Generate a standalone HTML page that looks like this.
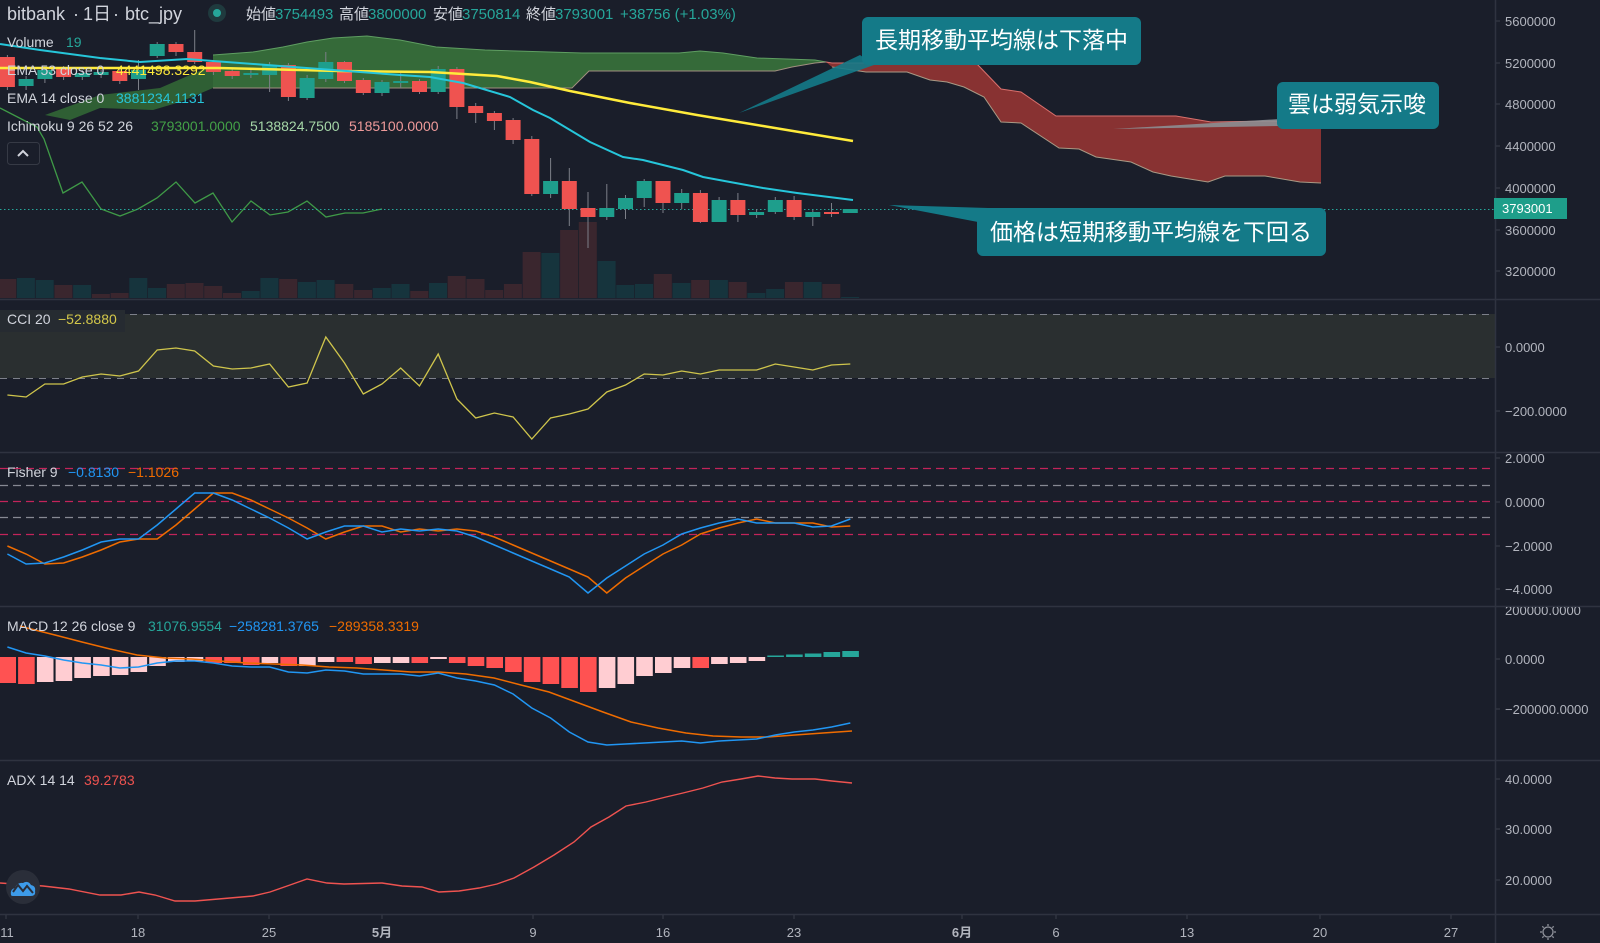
<!DOCTYPE html>
<html><head><meta charset="utf-8"><style>
html,body{margin:0;padding:0;background:#1a1e2a;}
svg{display:block;}
text{font-family:"Liberation Sans","Noto Sans CJK JP",sans-serif;}
.ax{font-size:13px;fill:#b2b5be;}
.lg{font-size:14px;fill:#d1d4dc;}
.co{font-size:23px;fill:#ffffff;font-family:"Noto Sans CJK JP","Liberation Sans",sans-serif;}
</style></head><body>
<svg width="1600" height="943" viewBox="0 0 1600 943" xmlns="http://www.w3.org/2000/svg">
<defs>
<clipPath id="plot"><rect x="0" y="0" width="1495" height="943"/></clipPath>
<clipPath id="macdax"><rect x="1496" y="607" width="104" height="152"/></clipPath>
</defs>
<rect width="1600" height="943" fill="#1a1e2a"/>

<g clip-path="url(#plot)">
<!-- ===== Main panel ===== -->
<!-- Volume bars -->
<g>
<rect x="-1.8" y="279" width="18" height="19" fill="#3a262e"/>
<rect x="16.9" y="278" width="18" height="20" fill="#16343d"/>
<rect x="35.7" y="280" width="18" height="18" fill="#16343d"/>
<rect x="54.4" y="285" width="18" height="13" fill="#3a262e"/>
<rect x="73.1" y="285" width="18" height="13" fill="#16343d"/>
<rect x="91.9" y="294" width="18" height="4" fill="#3a262e"/>
<rect x="110.6" y="293" width="18" height="5" fill="#3a262e"/>
<rect x="129.3" y="278" width="18" height="20" fill="#16343d"/>
<rect x="148" y="288" width="18" height="10" fill="#16343d"/>
<rect x="166.8" y="284" width="18" height="14" fill="#3a262e"/>
<rect x="185.5" y="283" width="18" height="15" fill="#3a262e"/>
<rect x="204.2" y="286" width="18" height="12" fill="#3a262e"/>
<rect x="223" y="293" width="18" height="5" fill="#3a262e"/>
<rect x="241.7" y="291" width="18" height="7" fill="#16343d"/>
<rect x="260.4" y="278" width="18" height="20" fill="#16343d"/>
<rect x="279.2" y="279" width="18" height="19" fill="#3a262e"/>
<rect x="297.9" y="282" width="18" height="16" fill="#16343d"/>
<rect x="316.6" y="280" width="18" height="18" fill="#16343d"/>
<rect x="335.3" y="284" width="18" height="14" fill="#3a262e"/>
<rect x="354.1" y="290" width="18" height="8" fill="#3a262e"/>
<rect x="372.8" y="288" width="18" height="10" fill="#16343d"/>
<rect x="391.5" y="284" width="18" height="14" fill="#16343d"/>
<rect x="410.3" y="291" width="18" height="7" fill="#3a262e"/>
<rect x="429" y="283" width="18" height="15" fill="#16343d"/>
<rect x="447.7" y="276" width="18" height="22" fill="#3a262e"/>
<rect x="466.5" y="279" width="18" height="19" fill="#3a262e"/>
<rect x="485.2" y="290" width="18" height="8" fill="#3a262e"/>
<rect x="503.9" y="284" width="18" height="14" fill="#3a262e"/>
<rect x="522.6" y="252" width="18" height="46" fill="#3a262e"/>
<rect x="541.4" y="253" width="18" height="45" fill="#16343d"/>
<rect x="560.1" y="230" width="18" height="68" fill="#3a262e"/>
<rect x="578.8" y="222" width="18" height="76" fill="#3a262e"/>
<rect x="597.6" y="261" width="18" height="37" fill="#16343d"/>
<rect x="616.3" y="285" width="18" height="13" fill="#16343d"/>
<rect x="635" y="284" width="18" height="14" fill="#16343d"/>
<rect x="653.8" y="274" width="18" height="24" fill="#3a262e"/>
<rect x="672.5" y="283" width="18" height="15" fill="#16343d"/>
<rect x="691.2" y="280" width="18" height="18" fill="#3a262e"/>
<rect x="709.9" y="280" width="18" height="18" fill="#16343d"/>
<rect x="728.7" y="282" width="18" height="16" fill="#3a262e"/>
<rect x="747.4" y="293" width="18" height="5" fill="#16343d"/>
<rect x="766.1" y="289" width="18" height="9" fill="#16343d"/>
<rect x="784.9" y="282" width="18" height="16" fill="#3a262e"/>
<rect x="803.6" y="282" width="18" height="16" fill="#16343d"/>
<rect x="822.3" y="284" width="18" height="14" fill="#3a262e"/>
<rect x="841.1" y="297" width="18" height="1" fill="#16343d"/>
</g>

<!-- Ichimoku clouds -->
<polygon points="45,115 100,95 160,88 213,65 213,88 180,102 153,110 100,108 70,120" fill="#2f5f34"/>
<polygon points="213,55 253,52 283,47 307,42 333,38 367,36 400,40 436,47 485,50 582,53 679,53 700,51 723,53 757,58 815,60 826,62 815,63 792,67 775,71 589,71 572,88 213,88" fill="#356a39"/>
<polyline points="213,55 253,52 283,47 307,42 333,38 367,36 400,40 436,47 485,50 582,53 679,53 700,51 723,53 757,58 815,60 826,62" fill="none" stroke="#5f9e62" stroke-width="1"/>
<polyline points="213,88 572,88 589,71 775,71 792,67 815,63 826,62" fill="none" stroke="#a08f7f" stroke-width="1"/>
<polygon points="826,62 832,63 910,63 947,54 976,63 1001,89 1021,92 1056,116 1176,116 1211,122 1274,121 1321,124 1321,183 1300,182 1265,176 1225,176 1208,182 1171,176 1153,172 1131,162 1096,157 1079,149 1059,148 1021,123 1001,122 984,97 964,87 947,82 930,80 907,72 866,72 832,67" fill="#883232"/>
<polyline points="826,62 832,63 910,63 947,54 976,63 1001,89 1021,92 1056,116 1176,116 1211,122 1274,121 1321,124" fill="none" stroke="#d9706d" stroke-width="1"/>
<polyline points="832,67 866,72 907,72 930,80 947,82 964,87 984,97 1001,122 1021,123 1059,148 1079,149 1096,157 1131,162 1153,172 1171,176 1208,182 1225,176 1265,176 1300,182 1321,183" fill="none" stroke="#a89a85" stroke-width="1"/>

<!-- Chikou -->
<polyline points="0,108 37,127 44,139 63,193 82,182 101,209 120,216 138,209 157,198 176,182 195,203 213,193 232,222 251,201 270,215 288,212 307,201 326,217 345,213 363,213 382,209" fill="none" stroke="#3f9a47" stroke-width="1.3"/>

<!-- price line -->
<line x1="0" y1="209.5" x2="1495" y2="209.5" stroke="#26a69a" stroke-width="1" stroke-dasharray="1.5,2.5"/>

<!-- candles -->
<g fill="#7c7f88">
<rect x="6.9" y="55" width="1" height="35"/><rect x="25.6" y="76" width="1" height="14"/><rect x="44.4" y="67" width="1" height="16"/><rect x="63.1" y="66" width="1" height="14"/><rect x="81.8" y="70" width="1" height="10"/><rect x="100.6" y="70" width="1" height="8"/><rect x="119.3" y="69" width="1" height="15"/><rect x="138" y="60" width="1" height="30"/><rect x="156.7" y="42" width="1" height="16"/><rect x="175.5" y="42" width="1" height="14"/><rect x="194.2" y="30" width="1" height="34"/><rect x="212.9" y="60" width="1" height="15"/><rect x="231.7" y="69" width="1" height="10"/><rect x="250.4" y="70" width="1" height="8"/><rect x="269.1" y="62" width="1" height="30"/><rect x="287.9" y="63" width="1" height="38"/><rect x="306.6" y="75" width="1" height="25"/><rect x="325.3" y="52" width="1" height="30"/><rect x="344" y="61" width="1" height="22"/><rect x="362.8" y="78" width="1" height="17"/><rect x="381.5" y="80" width="1" height="16"/><rect x="400.2" y="72" width="1" height="16"/><rect x="419" y="79" width="1" height="15"/><rect x="437.7" y="66" width="1" height="28"/><rect x="456.4" y="67" width="1" height="52"/><rect x="475.2" y="103" width="1" height="20"/><rect x="493.9" y="111" width="1" height="19"/><rect x="512.6" y="118" width="1" height="26"/><rect x="531.3" y="136" width="1" height="60"/><rect x="550.1" y="158" width="1" height="40"/><rect x="568.8" y="168" width="1" height="58"/><rect x="587.5" y="192" width="1" height="56"/><rect x="606.3" y="184" width="1" height="36"/><rect x="625" y="195" width="1" height="24"/><rect x="643.7" y="179" width="1" height="28"/><rect x="662.5" y="181" width="1" height="32"/><rect x="681.2" y="189" width="1" height="20"/><rect x="699.9" y="190" width="1" height="33"/><rect x="718.6" y="197" width="1" height="25"/><rect x="737.4" y="193" width="1" height="29"/><rect x="756.1" y="209" width="1" height="9"/><rect x="774.8" y="197" width="1" height="17"/><rect x="793.6" y="196" width="1" height="24"/><rect x="812.3" y="210" width="1" height="16"/><rect x="831" y="203" width="1" height="14"/>
</g>
<g>
<rect x="-0.1" y="57" width="15" height="30" fill="#ef5350"/>
<rect x="18.6" y="79" width="15" height="7" fill="#1e9e8c"/>
<rect x="37.4" y="70" width="15" height="9" fill="#1e9e8c"/>
<rect x="56.1" y="69" width="15" height="8" fill="#ef5350"/>
<rect x="74.8" y="73" width="15" height="4" fill="#1e9e8c"/>
<rect x="93.6" y="72" width="15" height="3" fill="#1e9e8c"/>
<rect x="112.3" y="71" width="15" height="10" fill="#ef5350"/>
<rect x="131" y="70" width="15" height="9" fill="#1e9e8c"/>
<rect x="149.7" y="44" width="15" height="12" fill="#1e9e8c"/>
<rect x="168.5" y="44" width="15" height="8" fill="#ef5350"/>
<rect x="187.2" y="52" width="15" height="10" fill="#ef5350"/>
<rect x="205.9" y="62" width="15" height="10" fill="#ef5350"/>
<rect x="224.7" y="71" width="15" height="5" fill="#ef5350"/>
<rect x="243.4" y="73" width="15" height="2" fill="#1e9e8c"/>
<rect x="262.1" y="65" width="15" height="10" fill="#1e9e8c"/>
<rect x="280.9" y="65" width="15" height="32" fill="#ef5350"/>
<rect x="299.6" y="78" width="15" height="20" fill="#1e9e8c"/>
<rect x="318.3" y="62" width="15" height="17" fill="#1e9e8c"/>
<rect x="337" y="62" width="15" height="19" fill="#ef5350"/>
<rect x="355.8" y="80" width="15" height="13" fill="#ef5350"/>
<rect x="374.5" y="82" width="15" height="11" fill="#1e9e8c"/>
<rect x="393.2" y="81" width="15" height="2" fill="#1e9e8c"/>
<rect x="412" y="81" width="15" height="11" fill="#ef5350"/>
<rect x="430.7" y="69" width="15" height="23" fill="#1e9e8c"/>
<rect x="449.4" y="69" width="15" height="38" fill="#ef5350"/>
<rect x="468.2" y="106" width="15" height="7" fill="#ef5350"/>
<rect x="486.9" y="113" width="15" height="8" fill="#ef5350"/>
<rect x="505.6" y="120" width="15" height="20" fill="#ef5350"/>
<rect x="524.3" y="139" width="15" height="55" fill="#ef5350"/>
<rect x="543.1" y="181" width="15" height="13" fill="#1e9e8c"/>
<rect x="561.8" y="181" width="15" height="28" fill="#ef5350"/>
<rect x="580.5" y="208" width="15" height="9" fill="#ef5350"/>
<rect x="599.3" y="208" width="15" height="9" fill="#1e9e8c"/>
<rect x="618" y="198" width="15" height="11" fill="#1e9e8c"/>
<rect x="636.7" y="181" width="15" height="17" fill="#1e9e8c"/>
<rect x="655.5" y="181" width="15" height="22" fill="#ef5350"/>
<rect x="674.2" y="193" width="15" height="10" fill="#1e9e8c"/>
<rect x="692.9" y="193" width="15" height="29" fill="#ef5350"/>
<rect x="711.6" y="200" width="15" height="22" fill="#1e9e8c"/>
<rect x="730.4" y="200" width="15" height="15" fill="#ef5350"/>
<rect x="749.1" y="212" width="15" height="3" fill="#1e9e8c"/>
<rect x="767.8" y="200" width="15" height="12" fill="#1e9e8c"/>
<rect x="786.6" y="200" width="15" height="17" fill="#ef5350"/>
<rect x="805.3" y="212" width="15" height="5" fill="#1e9e8c"/>
<rect x="824" y="212" width="15" height="2" fill="#ef5350"/>
<rect x="842.8" y="209" width="15" height="4" fill="#1e9e8c"/>
</g>

<!-- EMAs -->
<polyline points="0,68 218,68 339,71 430,72 497,76 530,82 570,91 630,103 697,115 763,126 853,141" fill="none" stroke="#ffeb3b" stroke-width="2.5"/>
<polyline points="0,44 40,50 100,58 140,62 187,59 213,61 267,65 333,70 400,75 430,77 463,83 510,97 533,110 550,118 590,142 623,157 643,160 683,170 703,177 730,182 763,188 797,193 853,200" fill="none" stroke="#26c6da" stroke-width="2"/>

<!-- Callouts -->
<polygon points="739,113 860,55 874,65" fill="#147a88" opacity="0.9"/>
<rect x="862" y="17" width="279" height="48" rx="6" fill="#147a88"/>
<text class="co" x="875" y="48">長期移動平均線は下落中</text>
<polygon points="1113,129 1280,119 1280,126" fill="#8d9499" opacity="0.85"/>
<rect x="1277" y="82" width="162" height="47" rx="6" fill="#147a88"/>
<text class="co" x="1288" y="112">雲は弱気示唆</text>
<polygon points="889,205 988,208 978,222" fill="#147a88"/>
<rect x="977" y="208" width="349" height="48" rx="6" fill="#147a88"/>
<text class="co" x="990" y="240">価格は短期移動平均線を下回る</text>

<!-- ===== CCI panel ===== -->
<rect x="0" y="314" width="1495" height="64" fill="#2a2f30"/>
<line x1="0" y1="314.5" x2="1495" y2="314.5" stroke="#7d808a" stroke-dasharray="7,6"/>
<line x1="0" y1="378.5" x2="1495" y2="378.5" stroke="#7d808a" stroke-dasharray="7,6"/>
<polyline points="7.4,395 26.1,397 44.9,384 63.6,384 82.3,377 101.1,374 119.8,376 138.5,371 157.2,350 176,348 194.7,351 213.4,366 232.2,369 250.9,368 269.6,364 288.4,387 307.1,383 325.8,337 344.5,363 363.3,394 382,384 400.7,368 419.5,386 438.2,354 456.9,399 475.7,418 494.4,413 513.1,417 531.8,439 550.6,418 569.3,414 588,409 606.8,392 625.5,385 644.2,374 663,375 681.7,371 700.4,374 719.1,370 737.9,370 756.6,370 775.3,364 794.1,367 812.8,370 831.5,365 850.3,364" fill="none" stroke="#cfc54c" stroke-width="1.3"/>

<!-- ===== Fisher panel ===== -->
<g stroke-width="1.2" stroke-dasharray="8,5">
<line x1="0" y1="468.5" x2="1495" y2="468.5" stroke="#c2245a"/>
<line x1="0" y1="485.5" x2="1495" y2="485.5" stroke="#868993"/>
<line x1="0" y1="501.5" x2="1495" y2="501.5" stroke="#c2245a"/>
<line x1="0" y1="517.5" x2="1495" y2="517.5" stroke="#868993"/>
<line x1="0" y1="534.5" x2="1495" y2="534.5" stroke="#c2245a"/>
</g>
<polyline points="7.4,546 26.1,554 44.9,564 63.6,563 82.3,557 101.1,550 119.8,542 138.5,539 157.2,539 176,525 194.7,509 213.4,493 232.2,493 250.9,500 269.6,509 288.4,518 307.1,528 325.8,539 344.5,532 363.3,526 382,526 400.7,532 419.5,529 438.2,531 456.9,529 475.7,531 494.4,537 513.1,545 531.8,553 550.6,561 569.3,569 588,577 606.8,593 625.5,578 644.2,566 663,554 681.7,545 700.4,534 719.1,528 737.9,523 756.6,519 775.3,523 794.1,523 812.8,523 831.5,527 850.3,526" fill="none" stroke="#ef6c00" stroke-width="1.5"/>
<polyline points="7.4,554 26.1,564 44.9,563 63.6,557 82.3,550 101.1,542 119.8,539 138.5,539 157.2,525 176,509 194.7,493 213.4,493 232.2,500 250.9,509 269.6,518 288.4,528 307.1,539 325.8,532 344.5,526 363.3,526 382,532 400.7,529 419.5,531 438.2,529 456.9,531 475.7,537 494.4,545 513.1,553 531.8,561 550.6,569 569.3,577 588,593 606.8,578 625.5,566 644.2,554 663,545 681.7,534 700.4,528 719.1,523 737.9,519 756.6,523 775.3,523 794.1,523 812.8,527 831.5,526 850.3,519" fill="none" stroke="#2196f3" stroke-width="1.5"/>

<!-- ===== MACD panel ===== -->
<g>
<rect x="-0.6" y="657" width="16.6" height="26" fill="#ff5252"/>
<rect x="18.1" y="657" width="16.6" height="27" fill="#ff5252"/>
<rect x="36.9" y="657" width="16.6" height="25" fill="#ffcdd2"/>
<rect x="55.6" y="657" width="16.6" height="24" fill="#ffcdd2"/>
<rect x="74.3" y="657" width="16.6" height="21" fill="#ffcdd2"/>
<rect x="93.1" y="657" width="16.6" height="19" fill="#ffcdd2"/>
<rect x="111.8" y="657" width="16.6" height="18" fill="#ffcdd2"/>
<rect x="130.5" y="657" width="16.6" height="15" fill="#ffcdd2"/>
<rect x="149.2" y="657" width="16.6" height="9" fill="#ffcdd2"/>
<rect x="168" y="657" width="16.6" height="5" fill="#ffcdd2"/>
<rect x="186.7" y="657" width="16.6" height="4" fill="#ffcdd2"/>
<rect x="205.4" y="657" width="16.6" height="6" fill="#ff5252"/>
<rect x="224.2" y="657" width="16.6" height="6" fill="#ff5252"/>
<rect x="242.9" y="657" width="16.6" height="8" fill="#ff5252"/>
<rect x="261.6" y="657" width="16.6" height="6" fill="#ffcdd2"/>
<rect x="280.4" y="657" width="16.6" height="9" fill="#ff5252"/>
<rect x="299.1" y="657" width="16.6" height="9" fill="#ffcdd2"/>
<rect x="317.8" y="657" width="16.6" height="5" fill="#ffcdd2"/>
<rect x="336.5" y="657" width="16.6" height="5" fill="#ff5252"/>
<rect x="355.3" y="657" width="16.6" height="7" fill="#ff5252"/>
<rect x="374" y="657" width="16.6" height="6" fill="#ffcdd2"/>
<rect x="392.7" y="657" width="16.6" height="6" fill="#ffcdd2"/>
<rect x="411.5" y="657" width="16.6" height="6" fill="#ff5252"/>
<rect x="430.2" y="657" width="16.6" height="2" fill="#ffcdd2"/>
<rect x="448.9" y="657" width="16.6" height="6" fill="#ff5252"/>
<rect x="467.7" y="657" width="16.6" height="9" fill="#ff5252"/>
<rect x="486.4" y="657" width="16.6" height="11" fill="#ff5252"/>
<rect x="505.1" y="657" width="16.6" height="15" fill="#ff5252"/>
<rect x="523.8" y="657" width="16.6" height="25" fill="#ff5252"/>
<rect x="542.6" y="657" width="16.6" height="27" fill="#ff5252"/>
<rect x="561.3" y="657" width="16.6" height="31" fill="#ff5252"/>
<rect x="580" y="657" width="16.6" height="35" fill="#ff5252"/>
<rect x="598.8" y="657" width="16.6" height="31" fill="#ffcdd2"/>
<rect x="617.5" y="657" width="16.6" height="27" fill="#ffcdd2"/>
<rect x="636.2" y="657" width="16.6" height="19" fill="#ffcdd2"/>
<rect x="655" y="657" width="16.6" height="16" fill="#ffcdd2"/>
<rect x="673.7" y="657" width="16.6" height="11" fill="#ffcdd2"/>
<rect x="692.4" y="657" width="16.6" height="11" fill="#ff5252"/>
<rect x="711.1" y="657" width="16.6" height="7" fill="#ffcdd2"/>
<rect x="729.9" y="657" width="16.6" height="6" fill="#ffcdd2"/>
<rect x="748.6" y="657" width="16.6" height="4" fill="#ffcdd2"/>
<rect x="767.3" y="655.5" width="16.6" height="1.5" fill="#26a69a"/>
<rect x="786.1" y="654.5" width="16.6" height="2.5" fill="#26a69a"/>
<rect x="804.8" y="653.5" width="16.6" height="3.5" fill="#26a69a"/>
<rect x="823.5" y="652" width="16.6" height="5" fill="#26a69a"/>
<rect x="842.3" y="651" width="16.6" height="6" fill="#26a69a"/>
</g>
<polyline points="20,626 27,628 55,635 82,642 110,649 137,655 165,658 192,659 219,661 247,663 274,664 302,665 329,667 357,668 384,670 411,672 439,672 466,674 494,678 521,685 549,692 576,702 603,712 631,722 658,728 686,733 713,736 741,737 768,737 795,735 823,733 852,731" fill="none" stroke="#ef6c00" stroke-width="1.5"/>
<polyline points="7.4,647 26.1,653 44.9,656 63.6,660 82.3,663 101.1,665 119.8,668 138.5,667 157.2,663 176,661 194.7,661 213.4,663 232.2,666 250.9,667 269.6,667 288.4,672 307.1,673 325.8,670 344.5,671 363.3,674 382,674 400.7,674 419.5,676 438.2,673 456.9,678 475.7,681 494.4,685 513.1,694 531.8,708 550.6,718 569.3,732 588,742 606.8,745 625.5,744 644.2,743 663,742 681.7,741 700.4,743 719.1,741 737.9,740 756.6,739 775.3,735 794.1,732 812.8,730 831.5,727 850.3,723" fill="none" stroke="#2196f3" stroke-width="1.5"/>

<!-- ===== ADX panel ===== -->
<polyline points="0,883 43,886 69,889 100,895 121,895 139,892 155,895 175,901 195,901 230,898 253,896 270,892 290,885 307,879 327,883 344,884 382,883 402,886 422,887 439,892 459,891 479,888 497,884 514,878 534,867 554,855 574,842 591,827 609,817 626,806 646,802 666,797 683,793 703,788 722,782 741,779 758,776 775,778 792,779 815,779 832,781 852,783" fill="none" stroke="#ef5350" stroke-width="1.4"/>
</g>

<!-- separators -->
<g stroke="#2f3340" stroke-width="1.5">
<line x1="0" y1="299.5" x2="1600" y2="299.5"/>
<line x1="0" y1="452.5" x2="1600" y2="452.5"/>
<line x1="0" y1="606.5" x2="1600" y2="606.5"/>
<line x1="0" y1="760.5" x2="1600" y2="760.5"/>
<line x1="0" y1="914.5" x2="1600" y2="914.5"/>
<line x1="1495.5" y1="0" x2="1495.5" y2="943"/>
</g>

<!-- Price label -->
<rect x="1494" y="198" width="73" height="21" fill="#1e9e8a"/>
<text x="1502" y="213" style="font-size:13px;fill:#ffffff">3793001</text>

<!-- axis ticks -->
<g stroke="#3a3e4a" stroke-width="1">
<line x1="1496" y1="21" x2="1500" y2="21"/><line x1="1496" y1="63" x2="1500" y2="63"/><line x1="1496" y1="104" x2="1500" y2="104"/><line x1="1496" y1="146" x2="1500" y2="146"/><line x1="1496" y1="188" x2="1500" y2="188"/><line x1="1496" y1="230" x2="1500" y2="230"/><line x1="1496" y1="271" x2="1500" y2="271"/>
<line x1="1496" y1="347" x2="1500" y2="347"/><line x1="1496" y1="411" x2="1500" y2="411"/>
<line x1="1496" y1="458" x2="1500" y2="458"/><line x1="1496" y1="502" x2="1500" y2="502"/><line x1="1496" y1="546" x2="1500" y2="546"/><line x1="1496" y1="589" x2="1500" y2="589"/>
<line x1="1496" y1="659" x2="1500" y2="659"/><line x1="1496" y1="709" x2="1500" y2="709"/>
<line x1="1496" y1="779" x2="1500" y2="779"/><line x1="1496" y1="829" x2="1500" y2="829"/><line x1="1496" y1="880" x2="1500" y2="880"/>
<line x1="6" y1="915" x2="6" y2="919"/><line x1="138" y1="915" x2="138" y2="919"/><line x1="269" y1="915" x2="269" y2="919"/><line x1="382" y1="915" x2="382" y2="919"/><line x1="533" y1="915" x2="533" y2="919"/><line x1="663" y1="915" x2="663" y2="919"/><line x1="794" y1="915" x2="794" y2="919"/><line x1="962" y1="915" x2="962" y2="919"/><line x1="1056" y1="915" x2="1056" y2="919"/><line x1="1187" y1="915" x2="1187" y2="919"/><line x1="1320" y1="915" x2="1320" y2="919"/><line x1="1451" y1="915" x2="1451" y2="919"/>
</g>

<!-- axis labels -->
<g class="ax">
<text x="1505" y="26">5600000</text>
<text x="1505" y="68">5200000</text>
<text x="1505" y="109">4800000</text>
<text x="1505" y="151">4400000</text>
<text x="1505" y="193">4000000</text>
<text x="1505" y="235">3600000</text>
<text x="1505" y="276">3200000</text>
<text x="1505" y="352">0.0000</text>
<text x="1505" y="416">−200.0000</text>
<text x="1505" y="463">2.0000</text>
<text x="1505" y="507">0.0000</text>
<text x="1505" y="551">−2.0000</text>
<text x="1505" y="594">−4.0000</text>
<text x="1505" y="615" clip-path="url(#macdax)">200000.0000</text>
<text x="1505" y="664">0.0000</text>
<text x="1505" y="714">−200000.0000</text>
<text x="1505" y="784">40.0000</text>
<text x="1505" y="834">30.0000</text>
<text x="1505" y="885">20.0000</text>
</g>
<g class="ax" text-anchor="middle">
<text x="7" y="937">11</text>
<text x="138" y="937">18</text>
<text x="269" y="937">25</text>
<text x="382" y="937" style="font-weight:bold">5月</text>
<text x="533" y="937">9</text>
<text x="663" y="937">16</text>
<text x="794" y="937">23</text>
<text x="962" y="937" style="font-weight:bold">6月</text>
<text x="1056" y="937">6</text>
<text x="1187" y="937">13</text>
<text x="1320" y="937">20</text>
<text x="1451" y="937">27</text>
</g>
<!-- gear -->
<g stroke="#8f929b" stroke-width="1.3" fill="none">
<circle cx="1548" cy="932" r="5"/>
<line x1="1548" y1="924" x2="1548" y2="926"/><line x1="1548" y1="938" x2="1548" y2="940"/>
<line x1="1540" y1="932" x2="1542" y2="932"/><line x1="1554" y1="932" x2="1556" y2="932"/>
<line x1="1542.3" y1="926.3" x2="1543.7" y2="927.7"/><line x1="1552.3" y1="936.3" x2="1553.7" y2="937.7"/>
<line x1="1553.7" y1="926.3" x2="1552.3" y2="927.7"/><line x1="1543.7" y1="936.3" x2="1542.3" y2="937.7"/>
</g>

<!-- Header -->
<text x="7" y="20" style="font-size:18px;fill:#d1d4dc">bitbank</text>
<text x="73" y="20" style="font-size:18px;fill:#d1d4dc">·</text>
<text x="83" y="20" style="font-size:18px;fill:#d1d4dc">1日</text>
<text x="113" y="20" style="font-size:18px;fill:#d1d4dc">·</text>
<text x="125" y="20" style="font-size:18px;fill:#d1d4dc">btc_jpy</text>
<circle cx="217" cy="13" r="9" fill="#1f3a3e"/>
<circle cx="217" cy="13" r="4" fill="#26a69a"/>
<g style="font-size:15px">
<text x="246" y="19" fill="#d1d4dc">始値</text><text x="275" y="19" fill="#26a69a">3754493</text>
<text x="339" y="19" fill="#d1d4dc">高値</text><text x="368" y="19" fill="#26a69a">3800000</text>
<text x="433" y="19" fill="#d1d4dc">安値</text><text x="462" y="19" fill="#26a69a">3750814</text>
<text x="526" y="19" fill="#d1d4dc">終値</text><text x="555" y="19" fill="#26a69a">3793001</text>
<text x="620" y="19" fill="#26a69a">+38756 (+1.03%)</text>
</g>

<!-- Legends -->
<text class="lg" x="7" y="47">Volume</text><text x="66" y="47" style="font-size:14px;fill:#26a69a">19</text>
<text class="lg" x="7" y="75">EMA 53 close 0</text><text x="116" y="75" style="font-size:14px;fill:#ffeb3b">4441498.3292</text>
<text class="lg" x="7" y="103">EMA 14 close 0</text><text x="116" y="103" style="font-size:14px;fill:#26c6da">3881234.1131</text>
<text class="lg" x="7" y="131">Ichimoku 9 26 52 26</text>
<text x="151" y="131" style="font-size:14px;fill:#43a047">3793001.0000</text>
<text x="250" y="131" style="font-size:14px;fill:#a5d6a7">5138824.7500</text>
<text x="349" y="131" style="font-size:14px;fill:#ef9a9a">5185100.0000</text>
<rect x="7.5" y="142.5" width="32" height="22" rx="3" fill="#1a1e2a" stroke="#363a45"/>
<polyline points="18,156 23,151 28,156" fill="none" stroke="#d1d4dc" stroke-width="2"/>

<rect x="0" y="310" width="125" height="22" fill="#262b31"/>
<text class="lg" x="7" y="324">CCI 20</text><text x="58" y="324" style="font-size:14px;fill:#d4c84a">−52.8880</text>
<text class="lg" x="7" y="477">Fisher 9</text><text x="68" y="477" style="font-size:14px;fill:#2196f3">−0.8130</text><text x="128" y="477" style="font-size:14px;fill:#ef6c00">−1.1026</text>
<text class="lg" x="7" y="631">MACD 12 26 close 9</text><text x="148" y="631" style="font-size:14px;fill:#26a69a">31076.9554</text><text x="229" y="631" style="font-size:14px;fill:#2196f3">−258281.3765</text><text x="329" y="631" style="font-size:14px;fill:#ef6c00">−289358.3319</text>
<text class="lg" x="7" y="785">ADX 14 14</text><text x="84" y="785" style="font-size:14px;fill:#ef5350">39.2783</text>

<!-- logo icon -->
<circle cx="23" cy="887" r="17" fill="#2a2e39"/>
<path d="M11,895 Q10,889 15,888 Q17,882 23,883 Q28,880 31,885 Q36,886 35,891 Q36,896 31,896 L14,896 Q11,896 11,895 Z" fill="#3d9be9"/>
<polyline points="13,892 18,885 23,891 27,886 33,893" fill="none" stroke="#2a2e39" stroke-width="2"/>
</svg>
</body></html>
